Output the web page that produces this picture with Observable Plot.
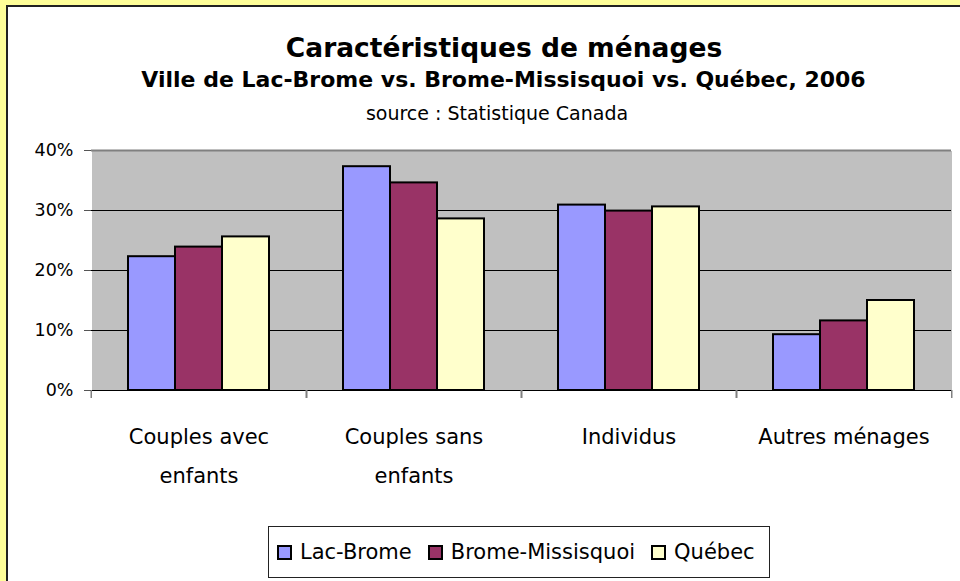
<!DOCTYPE html>
<html><head><meta charset="utf-8">
<script src="https://cdn.jsdelivr.net/npm/d3@7"></script>
<script src="https://cdn.jsdelivr.net/npm/@observablehq/plot@0.6"></script>
<style>
html,body{margin:0;padding:0;}
body{width:960px;height:581px;overflow:hidden;background:#FFFF99;position:relative;font-family:"DejaVu Sans",sans-serif;color:#000;}
#panel{position:absolute;left:6px;top:5px;width:954px;height:576px;background:#fff;border-left:2px solid #222;border-top:2px solid #222;box-sizing:border-box;}
.t{position:absolute;transform:translateX(-50%);white-space:nowrap;line-height:1;}
#chart{position:absolute;left:0;top:0;}
#legend{position:absolute;left:268px;top:526px;width:502px;height:52px;box-sizing:border-box;border:1px solid #222;background:#fff;display:flex;align-items:center;padding-left:8px;font-size:21px;}
.sw{width:15px;height:15px;box-sizing:border-box;border:2px solid #000;margin-right:8px;flex:none;}
.lab{margin-right:16px;white-space:nowrap;}
</style></head><body>
<div id="panel"></div>
<div class="t" style="left:504px;top:34.6px;font-size:26.5px;font-weight:bold">Caractéristiques de ménages</div>
<div class="t" style="left:503.5px;top:69.4px;font-size:22px;font-weight:bold">Ville de Lac-Brome vs. Brome-Missisquoi vs. Québec, 2006</div>
<div class="t" style="left:497px;top:104px;font-size:19px;">source : Statistique Canada</div>
<div id="chart"></div>
<div id="legend"></div>
<script>
const categories = ["Couples avec enfants", "Couples sans enfants", "Individus", "Autres ménages"];
const categoryLines = ["Couples avec\nenfants", "Couples sans\nenfants", "Individus", "Autres ménages"];
const seriesNames = ["Lac-Brome", "Brome-Missisquoi", "Québec"];
const lacBrome = [22.3, 37.3, 30.9, 9.3];
const bromeMissisquoi = [23.9, 34.6, 29.9, 11.6];
const quebec = [25.6, 28.6, 30.6, 15.0];
const yTicks = [0, 10, 20, 30, 40];

const seriesValues = [lacBrome, bromeMissisquoi, quebec];
const data = categories.flatMap((c, i) =>
  seriesNames.map((s, j) => ({category: c, series: s, value: seriesValues[j][i]}))
);

const W = 960, H = 520, mT = 150, mB = 130, mL = 90, mR = 8;
const step = (W - mL - mR) / categories.length;

const chart = Plot.plot({
  width: W, height: H,
  marginTop: mT, marginBottom: mB, marginLeft: mL, marginRight: mR,
  style: {background: "none", fontFamily: "DejaVu Sans, sans-serif", fontSize: "18px", color: "black", overflow: "visible"},
  fx: {domain: categories, padding: 0, label: null},
  x: {domain: seriesNames, paddingInner: 0, paddingOuter: 0.745, axis: null},
  y: {domain: [0, 40], label: null},
  color: {domain: seriesNames, range: ["#9999FF", "#993366", "#FFFFCC"]},
  marks: [
    Plot.frame({fill: "#c0c0c0", stroke: "none", shapeRendering: "crispEdges"}),
    Plot.ruleY([10, 20, 30], {stroke: "black", strokeWidth: 1}),
    Plot.ruleY([40], {stroke: "#808080", strokeWidth: 2}),
    Plot.barY(data, {fx: "category", x: "series", y: "value", fill: "series", stroke: "black", strokeWidth: 2}),
    Plot.ruleY([0], {stroke: "black", strokeWidth: 1}),
    // category boundary ticks below the baseline
    Plot.axisFx({anchor: "bottom", tickSize: 8, text: null, label: null, stroke: "#808080", strokeWidth: 1.5, dx: -step / 2}),
    Plot.axisFx({anchor: "bottom", tickSize: 8, text: null, label: null, stroke: "#808080", strokeWidth: 1.5, dx: step / 2}),
    Plot.axisY({ticks: yTicks, tickFormat: d => d + "%", tickSize: 7, tickPadding: 11, fontSize: 17.5, line: true, stroke: "#555", fill: "black", label: null}),
    Plot.axisFx({anchor: "bottom", tickSize: 0, tickPadding: 26, fontSize: 21, lineHeight: 1.86, fill: "black",
      tickFormat: c => categoryLines[categories.indexOf(c)], label: null})
  ]
});
document.getElementById("chart").appendChild(chart);

const color = chart.scale("color");
const legend = document.getElementById("legend");
seriesNames.forEach(s => {
  const sw = document.createElement("span");
  sw.className = "sw";
  sw.style.background = color.apply(s);
  const lab = document.createElement("span");
  lab.className = "lab";
  lab.textContent = s;
  legend.appendChild(sw);
  legend.appendChild(lab);
});
</script>
</body></html>
